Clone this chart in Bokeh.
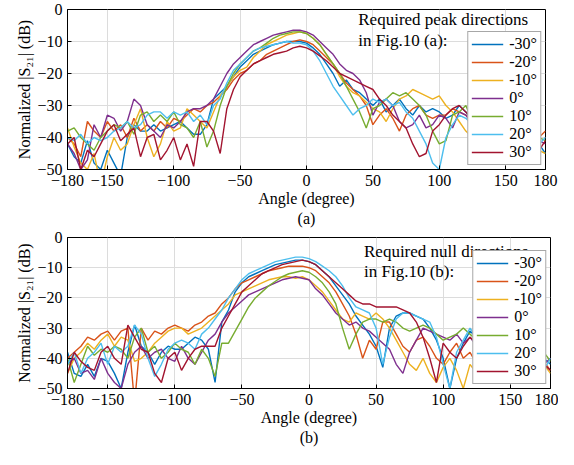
from bokeh.plotting import figure
from bokeh.models import Legend, LegendItem, Label, FixedTicker, Range1d
from bokeh.layouts import column
from bokeh.embed import file_html
from bokeh.resources import INLINE

angles = list(range(-180, 181, 5))
series_labels = ["-30°", "-20°", "-10°", "0°", "10°", "20°", "30°"]
colors = ["#0072BD", "#D95319", "#EDB120", "#7E2F8E", "#77AC30", "#4DBEEE", "#A2142F"]
x_ticks = [-180, -150, -100, -50, 0, 50, 100, 150, 180]
y_ticks = [0, -10, -20, -30, -40, -50]

# (a) Required peak directions
a_m30 = [-42, -46, -48, -41, -48, -50, -44, -48, -52, -40, -36, -38,
         -38, -36, -38, -37, -36, -35, -37, -39, -39, -36, -28, -26,
         -24, -21, -18, -16, -14, -13, -12, -11, -10.5, -10, -10, -10,
         -10.5, -12, -14, -17, -20, -24, -22, -25, -26, -28, -30, -28,
         -32, -30, -28, -31, -33, -30, -32, -31, -32, -34, -33, -30,
         -32, -35, -37, -40, -38, -42, -40, -43, -41, -44, -40, -42, -45]
a_m20 = [-40, -42, -46, -35, -38, -40, -35, -38, -36, -40, -34, -38,
         -36, -38, -35, -37, -34, -35, -33, -31, -32, -30, -29, -27,
         -25, -22, -20, -19, -17, -16, -14, -13, -12, -11, -10, -9.5,
         -10, -11, -13, -15, -17, -20, -23, -25, -27, -30, -36, -33,
         -31, -34, -38, -33, -31, -30, -33, -34, -33, -33, -31, -32,
         -33, -35, -38, -36, -38, -40, -38, -41, -39, -40, -38, -40, -38]
a_m10 = [-37, -43, -48, -50, -45, -55, -46, -40, -44, -42, -36, -31,
         -40, -46, -42, -35, -38, -37, -31, -33, -35, -37, -32, -27,
         -24, -21, -19, -18, -15, -13, -11, -10, -9, -8, -7.5, -7,
         -7.5, -9, -11, -14, -17, -21, -24, -26, -27, -29, -31, -32,
         -35, -31, -28, -27, -25, -26, -27, -28, -27, -30, -32, -35,
         -38, -40, -36, -38, -40, -42, -40, -43, -41, -45, -42, -44, -45]
a_0 = [-42, -45, -50, -47, -36, -40, -33, -34, -38, -35, -28, -30,
       -36, -38, -40, -36, -37, -35, -32, -31, -31, -30, -28, -24,
       -20, -17, -15, -13, -11, -10, -9, -8, -7.5, -7, -6.5, -6.5,
       -7, -8, -10, -12, -14, -17, -19, -20, -22, -26, -33, -29,
       -28, -30, -35, -37, -36, -33, -37, -36, -33, -34, -37, -32,
       -33, -36, -38, -40, -37, -42, -40, -44, -42, -40, -43, -41, -42]
a_10 = [-38, -37, -40, -42, -44, -40, -38, -36, -37, -35, -39, -33,
        -32, -35, -33, -35, -32, -36, -37, -40, -35, -43, -38, -30,
        -24, -20, -17, -15, -13, -12, -10.5, -9, -8, -7.5, -7, -7,
        -7.5, -9, -11, -14, -17, -20, -24, -28, -32, -37, -31, -30,
        -28, -26, -27, -26, -28, -30, -33, -38, -42, -41, -33, -32,
        -30, -35, -38, -40, -37, -41, -44, -40, -42, -38, -43, -40, -41]
a_20 = [-40, -41, -39, -42, -40, -41, -40, -38, -37, -35, -37, -36,
        -33, -32, -32, -34, -32, -33, -32, -35, -33, -36, -30, -28,
        -23, -19, -17, -15, -13, -12, -11.5, -11, -10.5, -10, -10.5, -10.5,
        -11, -13, -16, -20, -24, -27, -30, -33, -31, -30, -28, -29,
        -28, -30, -29, -32, -34, -38, -42, -48, -50, -40, -36, -33,
        -34, -36, -38, -41, -44, -40, -38, -42, -45, -40, -44, -42, -40]
a_30 = [-42, -40, -50, -44, -46, -42, -38, -36, -41, -39, -37, -46,
        -40, -39, -47, -44, -40, -47, -42, -49, -35, -35, -38, -45,
        -31, -25, -21, -19, -17, -16, -15, -14, -13.5, -13, -12, -11.5,
        -12, -13, -14.5, -16, -18, -20, -21, -22, -23, -24, -25, -28,
        -30, -33, -35, -37, -42, -46, -45, -38, -36, -33, -31, -30,
        -32, -34, -36, -38, -40, -42, -39, -41, -43, -40, -42, -44, -41]

# (b) Required null directions
b_m30 = [-38, -45, -46, -42, -46, -40, -41, -45, -50, -38, -29, -36,
         -38, -42, -38, -36, -37, -37, -35, -33, -34, -37, -48, -28,
         -24, -18, -15, -13, -12, -11, -10, -9, -8.5, -8, -7.5, -7.5,
         -8, -9, -11, -13, -16, -19, -22, -26, -29, -32, -36, -43,
         -30, -26, -25, -25, -26, -27, -30, -34, -40, -50, -40, -35,
         -31, -33, -38, -36, -40, -42, -38, -44, -41, -45, -43, -40, -42]
b_m20 = [-40, -38, -36, -33, -34, -32, -31, -34, -31, -30, -55, -30,
         -34, -31, -32, -30, -29, -30, -31, -29, -28, -26, -25, -22,
         -20, -17, -15, -14, -13, -12, -11, -10.5, -10, -9.5, -9.5, -9.5,
         -10, -11, -13, -15, -18, -22, -26, -32, -40, -34, -37, -28,
         -28, -32, -36, -38, -34, -33, -36, -40, -42, -38, -35, -40,
         -38, -42, -40, -37, -43, -41, -39, -44, -40, -42, -38, -41, -44]
b_m10 = [-45, -40, -38, -35, -37, -34, -32, -36, -33, -34, -41, -40,
         -38, -35, -33, -31, -30, -30, -32, -31, -30, -28, -26, -24,
         -22, -19, -18, -17, -16, -15, -14, -13.5, -13, -13, -13.5, -13,
         -14, -16, -18, -21, -24, -27, -28, -25, -26, -27, -25, -27,
         -30, -34, -38, -42, -44, -40, -45, -48, -43, -40, -44, -50,
         -42, -45, -40, -43, -47, -44, -42, -45, -41, -44, -46, -42, -45]
b_0 = [-42, -40, -45, -44, -47, -40, -45, -48, -50, -42, -38, -36,
       -40, -38, -37, -40, -41, -36, -40, -42, -38, -34, -32, -28,
       -25, -23, -21, -19, -18, -17, -16, -15, -14, -13.5, -13, -13.5,
       -14, -17, -19, -22, -25, -27, -29, -28, -30, -31, -33, -35,
       -37, -42, -45, -38, -34, -30, -31, -32, -33, -34, -32, -35,
       -33, -36, -38, -40, -42, -39, -41, -44, -40, -43, -41, -42, -40]
b_10 = [-40, -48, -42, -36, -39, -37, -38, -36, -37, -40, -33, -30,
        -38, -36, -40, -38, -35, -37, -38, -42, -37, -40, -46, -35,
        -35, -31, -27, -23, -20, -18, -16, -14.5, -13, -12, -11.5, -11,
        -11.5, -13, -15, -18, -22, -30, -37, -32, -28, -27, -27, -28,
        -27, -28, -30, -31, -30, -29, -30, -32, -34, -33, -32, -30,
        -32, -34, -36, -38, -35, -39, -41, -38, -42, -40, -43, -38, -41]
b_20 = [-42, -38, -45, -40, -38, -35, -42, -36, -38, -36, -29, -32,
        -40, -46, -42, -37, -35, -34, -35, -37, -32, -30, -27, -24,
        -20, -17, -14, -12, -11, -10, -9, -8, -7.5, -7, -6.5, -6.5,
        -7, -8, -9.5, -11, -13, -16, -20, -23, -24, -25, -30, -42,
        -33, -27, -25, -25, -26, -27, -28, -33, -42, -50, -38, -34,
        -30, -33, -36, -38, -41, -44, -40, -43, -39, -45, -42, -44, -40]
b_30 = [-45, -38, -41, -43, -44, -38, -36, -40, -42, -29, -33, -37,
        -38, -45, -48, -40, -38, -44, -40, -37, -36, -36, -36, -30,
        -26, -22, -18, -16, -14, -12, -11, -10, -9, -8.5, -8, -7.5,
        -8, -9, -11, -13, -15, -17, -19, -21, -22, -22, -23, -23,
        -23, -23, -24, -25, -28, -33, -40, -48, -35, -38, -40, -36,
        -33, -35, -38, -40, -37, -42, -44, -40, -43, -41, -38, -42, -44]

series_a = [a_m30, a_m20, a_m10, a_0, a_10, a_20, a_30]
series_b = [b_m30, b_m20, b_m10, b_0, b_10, b_20, b_30]

FONT = "Liberation Serif"


def make_panel(series, fw, fh, mbl, mbr, mbt, sub, line1, line2,
               text_x, t1y, t2y):
    p = figure(frame_width=fw, frame_height=fh, x_range=Range1d(-180, 180),
               y_range=Range1d(-50, 0), output_backend="svg",
               toolbar_location=None, min_border_left=mbl, min_border_right=mbr,
               min_border_top=mbt, min_border_bottom=10)
    p.background_fill_color = "white"
    p.border_fill_color = "white"
    p.outline_line_color = "black"
    p.outline_line_width = 1

    p.xaxis.ticker = FixedTicker(ticks=x_ticks)
    p.yaxis.ticker = FixedTicker(ticks=y_ticks)
    p.xgrid.ticker = FixedTicker(ticks=x_ticks)
    p.ygrid.ticker = FixedTicker(ticks=y_ticks)
    p.grid.grid_line_color = "#dcdcdc"
    p.grid.grid_line_width = 1

    for ax in (p.xaxis, p.yaxis):
        ax.axis_line_color = "black"
        ax.major_tick_in = 4
        ax.major_tick_out = 0
        ax.minor_tick_line_color = None
        ax.major_label_text_font = FONT
        ax.major_label_text_font_size = "16px"
        ax.major_label_text_color = "black"
        ax.axis_label_text_font = FONT
        ax.axis_label_text_font_size = "16px"
        ax.axis_label_text_font_style = "normal"
        ax.axis_label_text_color = "black"
    p.xaxis.axis_label = "Angle (degree)\n" + sub
    p.xaxis.axis_label_standoff = 1
    p.xaxis.major_label_standoff = 5
    p.yaxis.axis_label = "Normalized |S₂₁| (dB)"
    p.yaxis.axis_label_standoff = 1
    p.yaxis.major_label_standoff = 5

    items = []
    for vals, lab, col in zip(series, series_labels, colors):
        r = p.line(angles, vals, line_color=col, line_width=1.4)
        items.append(LegendItem(label=lab, renderers=[r]))

    leg = Legend(items=items, location="bottom_right")
    leg.margin = 4
    leg.padding = 3
    leg.spacing = 0
    leg.label_height = 18
    leg.glyph_height = 18
    leg.glyph_width = 32
    leg.label_standoff = 6
    leg.label_text_font = FONT
    leg.label_text_font_size = "16px"
    leg.label_text_color = "black"
    leg.border_line_color = "#505050"
    leg.border_line_width = 1
    leg.background_fill_color = "white"
    leg.background_fill_alpha = 1.0
    p.add_layout(leg)

    p.add_layout(Label(x=text_x, y=t1y, text=line1, text_font=FONT,
                       text_font_size="17px", text_baseline="top",
                       text_color="black", level="overlay"))
    p.add_layout(Label(x=text_x, y=t2y, text=line2, text_font=FONT,
                       text_font_size="17px", text_baseline="top",
                       text_color="black", level="overlay"))
    return p


p1 = make_panel(series_a, 478, 160, 67, 13, 9, "(a)",
                "Required peak directions", "in Fig.10 (a):",
                39, -0.3, -6.8)
p2 = make_panel(series_b, 483, 151, 62, 13, 8, "(b)",
                "Required null directions", "in Fig.10 (b):",
                41, -1.6, -8.0)

layout = column(p1, p2)
open("out.html", "w").write(file_html(layout, INLINE))
